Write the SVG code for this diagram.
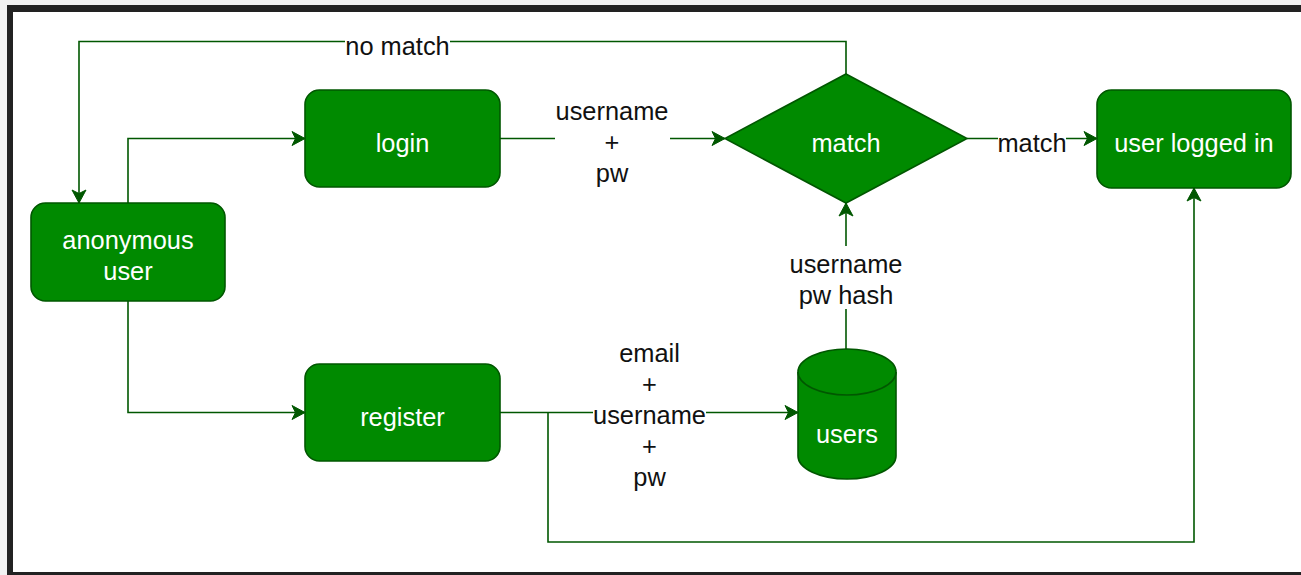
<svg xmlns="http://www.w3.org/2000/svg" width="1301" height="575" viewBox="0 0 1301 575">
  <style>
    .node { fill: #008a00; stroke: #005700; stroke-width: 1.6; }
    .ntext { fill: #ffffff; font-family: "Liberation Sans", Arial, Helvetica, sans-serif; font-size: 25.4px; text-anchor: middle; }
    .edge { fill: none; stroke: #005700; stroke-width: 1.6; }
    .ltext { fill: #111111; font-family: "Liberation Sans", Arial, Helvetica, sans-serif; font-size: 25.4px; text-anchor: middle; }
    .lbg { fill: #ffffff; }
  </style>
  <defs>
    <marker id="arrow" markerUnits="userSpaceOnUse" markerWidth="16" markerHeight="16" viewBox="-14 -8 16 16" refX="0" refY="0" orient="auto">
      <path d="M0,0 L-13,-7 L-9.5,0 L-13,7 Z" fill="#005700" stroke="#005700" stroke-width="1"/>
    </marker>
  </defs>

  <!-- page frame -->
  <rect x="0" y="0" width="1301" height="575" fill="#f2f2f2"/>
  <rect x="7" y="5" width="1294" height="570" fill="#222222"/>
  <rect x="13" y="12" width="1288" height="560" fill="#ffffff"/>

  <g id="connectors">
    <path class="edge" d="M846,74 V41.5 H79 V203" marker-end="url(#arrow)"/>
    <path class="edge" d="M128,203 V138.5 H305" marker-end="url(#arrow)"/>
    <path class="edge" d="M128,301 V412.5 H305" marker-end="url(#arrow)"/>
    <path class="edge" d="M500,138.5 H725" marker-end="url(#arrow)"/>
    <path class="edge" d="M967,138.5 H1097" marker-end="url(#arrow)"/>
    <path class="edge" d="M846,349 V203" marker-end="url(#arrow)"/>
    <path class="edge" d="M500,412.5 H798" marker-end="url(#arrow)"/>
    <path class="edge" d="M548,412.5 V542 H1194 V188" marker-end="url(#arrow)"/>

    <g id="label-no-match">
      <rect class="lbg" x="345" y="30" width="105" height="26"/>
      <text class="ltext" x="397.5" y="55">no match</text>
    </g>
    <g id="label-credentials">
      <rect class="lbg" x="555" y="98" width="115" height="90"/>
      <text class="ltext" x="612" y="120">username</text>
      <text class="ltext" x="612" y="151">+</text>
      <text class="ltext" x="612" y="182">pw</text>
    </g>
    <g id="label-match">
      <rect class="lbg" x="998" y="126" width="68" height="26"/>
      <text class="ltext" x="1032" y="152">match</text>
    </g>
    <g id="label-hash">
      <rect class="lbg" x="788" y="246" width="116" height="63"/>
      <text class="ltext" x="846" y="273">username</text>
      <text class="ltext" x="846" y="304">pw hash</text>
    </g>
    <g id="label-signup">
      <rect class="lbg" x="593" y="338" width="113" height="155"/>
      <text class="ltext" x="649.5" y="362">email</text>
      <text class="ltext" x="649.5" y="393">+</text>
      <text class="ltext" x="649.5" y="424">username</text>
      <text class="ltext" x="649.5" y="455">+</text>
      <text class="ltext" x="649.5" y="486">pw</text>
    </g>
  </g>

  <g id="anonymous-user">
    <rect class="node" x="31" y="203" width="194" height="98" rx="14.5" ry="14.5"/>
    <text class="ntext" x="128" y="249">anonymous</text>
    <text class="ntext" x="128" y="280">user</text>
  </g>

  <g id="login">
    <rect class="node" x="305" y="90" width="195" height="97" rx="14.5" ry="14.5"/>
    <text class="ntext" x="402.5" y="152">login</text>
  </g>

  <g id="register">
    <rect class="node" x="305" y="364" width="195" height="97" rx="14.5" ry="14.5"/>
    <text class="ntext" x="402.5" y="426">register</text>
  </g>

  <g id="match">
    <polygon class="node" points="846,74 967,138.5 846,203 725,138.5"/>
    <text class="ntext" x="846" y="152">match</text>
  </g>

  <g id="user-logged-in">
    <rect class="node" x="1097" y="90" width="194" height="98" rx="14.5" ry="14.5"/>
    <text class="ntext" x="1194" y="152">user logged in</text>
  </g>

  <g id="users">
    <path class="node" d="M798,372 A49,23 0 0 1 896,372 V456 A49,23 0 0 1 798,456 Z"/>
    <path class="node" fill="none" d="M798,372 A49,23 0 0 0 896,372" style="fill:none"/>
    <text class="ntext" x="847" y="443">users</text>
  </g>
</svg>
